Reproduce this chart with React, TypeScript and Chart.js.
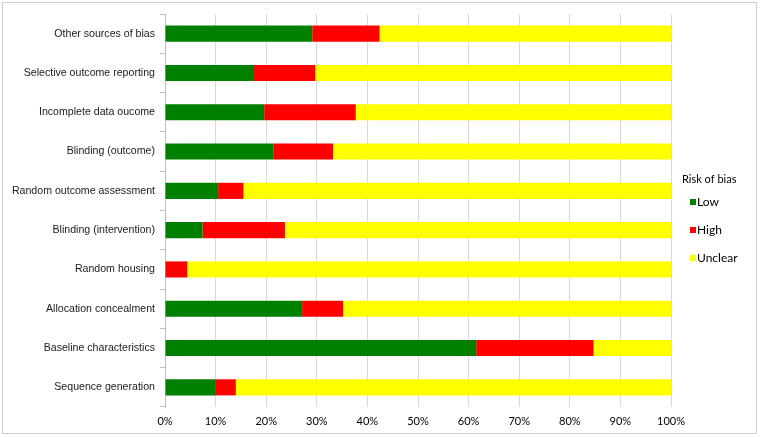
import React, { useEffect, useRef } from "react";
import { Chart, registerables } from "chart.js";

Chart.register(...registerables);

const categories = [
  "Other sources of bias",
  "Selective outcome reporting",
  "Incomplete data oucome",
  "Blinding (outcome)",
  "Random outcome assessment",
  "Blinding (intervention)",
  "Random housing",
  "Allocation concealment",
  "Baseline characteristics",
  "Sequence generation",
];

const lowValues = [29.1, 17.6, 19.6, 21.5, 10.5, 7.4, 0, 27.1, 61.5, 9.9];
const highValues = [13.3, 12.1, 18.1, 11.7, 5.0, 16.3, 4.4, 8.1, 23.2, 4.1];
const unclearValues = categories.map((_, i) =>
  Math.round((100 - lowValues[i] - highValues[i]) * 10) / 10
);

const seriesNames = ["Low", "High", "Unclear"];
const seriesColors = ["#008000", "#ff0000", "#ffff00"];
const legendTitle = "Risk of bias";
const xTicks = [0, 10, 20, 30, 40, 50, 60, 70, 80, 90, 100];

const framePlugin = {
  id: "frame",
  beforeDraw(chart: any) {
    const ctx = chart.ctx;
    ctx.save();
    ctx.fillStyle = "#ffffff";
    ctx.fillRect(0, 0, chart.width, chart.height);
    ctx.strokeStyle = "#cfcfcf";
    ctx.lineWidth = 1;
    ctx.strokeRect(2.5, 2.5, 754, 431);
    ctx.restore();
  },
};

const legendPlugin = {
  id: "customLegend",
  afterDraw(chart: any) {
    const ctx = chart.ctx;
    ctx.save();
    ctx.textBaseline = "middle";
    ctx.textAlign = "left";
    ctx.fillStyle = "#000000";
    ctx.font = "11px Lato, 'Liberation Sans', sans-serif";
    ctx.fillText(legendTitle, 682, 179);
    chart.data.datasets.forEach((ds: any, i: number) => {
      const y = 202 + i * 28;
      ctx.fillStyle = ds.backgroundColor;
      ctx.fillRect(690, y - 3, 6, 6);
      ctx.fillStyle = "#000000";
      ctx.font = "12px Lato, 'Liberation Sans', sans-serif";
      ctx.fillText(ds.label, 697, y);
    });
    ctx.restore();
  },
};

export default function App() {
  const ref = useRef<HTMLCanvasElement | null>(null);

  useEffect(() => {
    const canvas = ref.current;
    if (!canvas) return;
    const chart = new Chart(canvas, {
      type: "bar",
      data: {
        labels: categories,
        datasets: [lowValues, highValues, unclearValues].map((vals, i) => ({
          label: seriesNames[i],
          data: vals,
          backgroundColor: seriesColors[i],
          borderWidth: 0,
          categoryPercentage: 1,
          barPercentage: 0.41,
        })),
      },
      options: {
        indexAxis: "y",
        responsive: false,
        animation: false,
        devicePixelRatio: 1,
        layout: { padding: { left: 0, top: 14, right: 89, bottom: 0 } },
        plugins: {
          legend: { display: false },
          tooltip: { enabled: false },
        },
        scales: {
          x: {
            stacked: true,
            min: 0,
            max: 100,
            afterBuildTicks: (scale: any) => {
              scale.ticks = xTicks.map((v) => ({ value: v }));
            },
            afterFit: (scale: any) => {
              scale.height = 31;
            },
            grid: {
              color: "#d9d9d9",
              drawTicks: false,
            },
            border: { display: false },
            ticks: {
              padding: 8,
              color: "#000000",
              font: { family: "Lato, 'Liberation Sans', sans-serif", size: 11 },
              callback: (v: any) => v + "%",
            },
          },
          y: {
            stacked: true,
            afterFit: (scale: any) => {
              scale.width = 165;
            },
            grid: {
              offset: true,
              drawOnChartArea: false,
              drawTicks: true,
              tickLength: 5,
              color: "#bfbfbf",
            },
            border: { display: true, color: "#bfbfbf" },
            ticks: {
              padding: 5,
              color: "#1a1a1a",
              font: { family: "'Liberation Sans', Arial, sans-serif", size: 10.6 },
            },
          },
        },
      },
      plugins: [framePlugin, legendPlugin],
    } as any);
    return () => chart.destroy();
  }, []);

  return (
    <div style={{ position: "fixed", left: 0, top: 0, width: 760, height: 438 }}>
      <canvas ref={ref} width={760} height={438} style={{ display: "block" }} />
    </div>
  );
}
